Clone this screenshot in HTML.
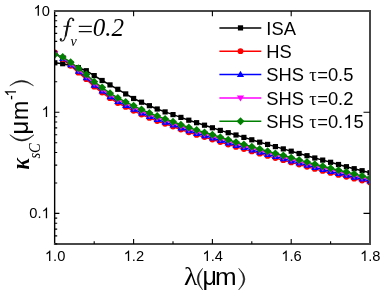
<!DOCTYPE html>
<html><head><meta charset="utf-8"><style>
html,body{margin:0;padding:0;background:#fff;}
svg{display:block;will-change:transform}
text{font-family:"Liberation Sans",sans-serif;fill:#000}
.se{font-family:"Liberation Serif",serif}
</style></head><body>
<svg width="382" height="292" viewBox="0 0 382 292">
<rect width="382" height="292" fill="#fff"/>
<defs><clipPath id="cp"><rect x="54.8" y="11.0" width="315.2" height="233.0"/></clipPath></defs>

<g clip-path="url(#cp)">
<polyline points="54.8,62.8 62.7,63.7 70.6,65.4 78.4,67.7 86.3,70.7 94.2,75.6 102.1,80.5 110.0,84.9 117.8,89.3 125.7,93.9 133.6,98.5 141.5,102.2 149.4,105.7 157.2,109.0 165.1,111.9 173.0,114.6 180.9,117.4 188.8,120.2 196.6,122.7 204.5,125.2 212.4,127.8 220.3,130.4 228.2,132.7 236.0,135.0 243.9,137.4 251.8,139.8 259.7,142.2 267.6,144.4 275.4,146.6 283.3,148.9 291.2,151.2 299.1,153.5 307.0,155.7 314.8,158.0 322.7,160.1 330.6,162.3 338.5,164.5 346.4,166.7 354.2,168.7 362.1,170.7 370.0,172.7" fill="none" stroke="#000" stroke-width="1.5"/>
<rect x="52.2" y="60.2" width="5.2" height="5.2" fill="#000"/>
<rect x="60.1" y="61.1" width="5.2" height="5.2" fill="#000"/>
<rect x="68.0" y="62.8" width="5.2" height="5.2" fill="#000"/>
<rect x="75.8" y="65.1" width="5.2" height="5.2" fill="#000"/>
<rect x="83.7" y="68.1" width="5.2" height="5.2" fill="#000"/>
<rect x="91.6" y="73.0" width="5.2" height="5.2" fill="#000"/>
<rect x="99.5" y="77.9" width="5.2" height="5.2" fill="#000"/>
<rect x="107.4" y="82.3" width="5.2" height="5.2" fill="#000"/>
<rect x="115.2" y="86.7" width="5.2" height="5.2" fill="#000"/>
<rect x="123.1" y="91.3" width="5.2" height="5.2" fill="#000"/>
<rect x="131.0" y="95.9" width="5.2" height="5.2" fill="#000"/>
<rect x="138.9" y="99.6" width="5.2" height="5.2" fill="#000"/>
<rect x="146.8" y="103.1" width="5.2" height="5.2" fill="#000"/>
<rect x="154.6" y="106.4" width="5.2" height="5.2" fill="#000"/>
<rect x="162.5" y="109.3" width="5.2" height="5.2" fill="#000"/>
<rect x="170.4" y="112.0" width="5.2" height="5.2" fill="#000"/>
<rect x="178.3" y="114.8" width="5.2" height="5.2" fill="#000"/>
<rect x="186.2" y="117.6" width="5.2" height="5.2" fill="#000"/>
<rect x="194.0" y="120.1" width="5.2" height="5.2" fill="#000"/>
<rect x="201.9" y="122.6" width="5.2" height="5.2" fill="#000"/>
<rect x="209.8" y="125.2" width="5.2" height="5.2" fill="#000"/>
<rect x="217.7" y="127.8" width="5.2" height="5.2" fill="#000"/>
<rect x="225.6" y="130.1" width="5.2" height="5.2" fill="#000"/>
<rect x="233.4" y="132.4" width="5.2" height="5.2" fill="#000"/>
<rect x="241.3" y="134.8" width="5.2" height="5.2" fill="#000"/>
<rect x="249.2" y="137.2" width="5.2" height="5.2" fill="#000"/>
<rect x="257.1" y="139.6" width="5.2" height="5.2" fill="#000"/>
<rect x="265.0" y="141.8" width="5.2" height="5.2" fill="#000"/>
<rect x="272.8" y="144.0" width="5.2" height="5.2" fill="#000"/>
<rect x="280.7" y="146.3" width="5.2" height="5.2" fill="#000"/>
<rect x="288.6" y="148.6" width="5.2" height="5.2" fill="#000"/>
<rect x="296.5" y="150.9" width="5.2" height="5.2" fill="#000"/>
<rect x="304.4" y="153.1" width="5.2" height="5.2" fill="#000"/>
<rect x="312.2" y="155.4" width="5.2" height="5.2" fill="#000"/>
<rect x="320.1" y="157.5" width="5.2" height="5.2" fill="#000"/>
<rect x="328.0" y="159.7" width="5.2" height="5.2" fill="#000"/>
<rect x="335.9" y="161.9" width="5.2" height="5.2" fill="#000"/>
<rect x="343.8" y="164.1" width="5.2" height="5.2" fill="#000"/>
<rect x="351.6" y="166.1" width="5.2" height="5.2" fill="#000"/>
<rect x="359.5" y="168.1" width="5.2" height="5.2" fill="#000"/>
<rect x="367.4" y="170.1" width="5.2" height="5.2" fill="#000"/>
<polyline points="54.8,52.5 62.7,59.1 70.6,65.8 78.4,72.7 86.3,79.2 94.2,86.7 102.1,92.6 110.0,98.2 117.8,103.0 125.7,106.9 133.6,110.8 141.5,114.6 149.4,117.9 157.2,121.0 165.1,123.8 173.0,126.5 180.9,129.5 188.8,132.3 196.6,134.9 204.5,137.1 212.4,139.5 220.3,142.0 228.2,144.5 236.0,146.9 243.9,149.1 251.8,151.4 259.7,153.7 267.6,155.9 275.4,158.1 283.3,160.2 291.2,162.4 299.1,164.6 307.0,166.8 314.8,168.9 322.7,170.9 330.6,172.9 338.5,174.9 346.4,176.8 354.2,178.7 362.1,180.6 370.0,182.6" fill="none" stroke="#f00" stroke-width="1.5"/>
<circle cx="54.8" cy="52.5" r="2.9" fill="#f00"/>
<circle cx="62.7" cy="59.1" r="2.9" fill="#f00"/>
<circle cx="70.6" cy="65.8" r="2.9" fill="#f00"/>
<circle cx="78.4" cy="72.7" r="2.9" fill="#f00"/>
<circle cx="86.3" cy="79.2" r="2.9" fill="#f00"/>
<circle cx="94.2" cy="86.7" r="2.9" fill="#f00"/>
<circle cx="102.1" cy="92.6" r="2.9" fill="#f00"/>
<circle cx="110.0" cy="98.2" r="2.9" fill="#f00"/>
<circle cx="117.8" cy="103.0" r="2.9" fill="#f00"/>
<circle cx="125.7" cy="106.9" r="2.9" fill="#f00"/>
<circle cx="133.6" cy="110.8" r="2.9" fill="#f00"/>
<circle cx="141.5" cy="114.6" r="2.9" fill="#f00"/>
<circle cx="149.4" cy="117.9" r="2.9" fill="#f00"/>
<circle cx="157.2" cy="121.0" r="2.9" fill="#f00"/>
<circle cx="165.1" cy="123.8" r="2.9" fill="#f00"/>
<circle cx="173.0" cy="126.5" r="2.9" fill="#f00"/>
<circle cx="180.9" cy="129.5" r="2.9" fill="#f00"/>
<circle cx="188.8" cy="132.3" r="2.9" fill="#f00"/>
<circle cx="196.6" cy="134.9" r="2.9" fill="#f00"/>
<circle cx="204.5" cy="137.1" r="2.9" fill="#f00"/>
<circle cx="212.4" cy="139.5" r="2.9" fill="#f00"/>
<circle cx="220.3" cy="142.0" r="2.9" fill="#f00"/>
<circle cx="228.2" cy="144.5" r="2.9" fill="#f00"/>
<circle cx="236.0" cy="146.9" r="2.9" fill="#f00"/>
<circle cx="243.9" cy="149.1" r="2.9" fill="#f00"/>
<circle cx="251.8" cy="151.4" r="2.9" fill="#f00"/>
<circle cx="259.7" cy="153.7" r="2.9" fill="#f00"/>
<circle cx="267.6" cy="155.9" r="2.9" fill="#f00"/>
<circle cx="275.4" cy="158.1" r="2.9" fill="#f00"/>
<circle cx="283.3" cy="160.2" r="2.9" fill="#f00"/>
<circle cx="291.2" cy="162.4" r="2.9" fill="#f00"/>
<circle cx="299.1" cy="164.6" r="2.9" fill="#f00"/>
<circle cx="307.0" cy="166.8" r="2.9" fill="#f00"/>
<circle cx="314.8" cy="168.9" r="2.9" fill="#f00"/>
<circle cx="322.7" cy="170.9" r="2.9" fill="#f00"/>
<circle cx="330.6" cy="172.9" r="2.9" fill="#f00"/>
<circle cx="338.5" cy="174.9" r="2.9" fill="#f00"/>
<circle cx="346.4" cy="176.8" r="2.9" fill="#f00"/>
<circle cx="354.2" cy="178.7" r="2.9" fill="#f00"/>
<circle cx="362.1" cy="180.6" r="2.9" fill="#f00"/>
<circle cx="370.0" cy="182.6" r="2.9" fill="#f00"/>
<polyline points="54.8,53.1 62.7,58.5 70.6,64.6 78.4,71.3 86.3,77.7 94.2,85.1 102.1,91.0 110.0,96.6 117.8,101.4 125.7,105.3 133.6,109.2 141.5,113.0 149.4,116.4 157.2,119.4 165.1,122.2 173.0,125.0 180.9,128.0 188.8,130.8 196.6,133.3 204.5,135.6 212.4,138.0 220.3,140.5 228.2,143.0 236.0,145.4 243.9,147.6 251.8,149.9 259.7,152.2 267.6,154.4 275.4,156.6 283.3,158.7 291.2,160.9 299.1,163.1 307.0,165.3 314.8,167.4 322.7,169.4 330.6,171.4 338.5,173.4 346.4,175.3 354.2,177.2 362.1,179.1 370.0,181.1" fill="none" stroke="#00f" stroke-width="1.5"/>
<polygon points="51.2,55.7 58.4,55.7 54.8,49.4" fill="#00f"/>
<polygon points="59.1,61.0 66.3,61.0 62.7,54.7" fill="#00f"/>
<polygon points="67.0,67.2 74.2,67.2 70.6,60.9" fill="#00f"/>
<polygon points="74.8,73.8 82.0,73.8 78.4,67.6" fill="#00f"/>
<polygon points="82.7,80.2 89.9,80.2 86.3,73.9" fill="#00f"/>
<polygon points="90.6,87.7 97.8,87.7 94.2,81.4" fill="#00f"/>
<polygon points="98.5,93.5 105.7,93.5 102.1,87.3" fill="#00f"/>
<polygon points="106.4,99.2 113.6,99.2 110.0,92.9" fill="#00f"/>
<polygon points="114.2,104.0 121.4,104.0 117.8,97.7" fill="#00f"/>
<polygon points="122.1,107.9 129.3,107.9 125.7,101.6" fill="#00f"/>
<polygon points="130.0,111.8 137.2,111.8 133.6,105.5" fill="#00f"/>
<polygon points="137.9,115.5 145.1,115.5 141.5,109.2" fill="#00f"/>
<polygon points="145.8,118.9 153.0,118.9 149.4,112.6" fill="#00f"/>
<polygon points="153.6,122.0 160.8,122.0 157.2,115.7" fill="#00f"/>
<polygon points="161.5,124.8 168.7,124.8 165.1,118.5" fill="#00f"/>
<polygon points="169.4,127.5 176.6,127.5 173.0,121.3" fill="#00f"/>
<polygon points="177.3,130.5 184.5,130.5 180.9,124.2" fill="#00f"/>
<polygon points="185.2,133.3 192.4,133.3 188.8,127.0" fill="#00f"/>
<polygon points="193.0,135.9 200.2,135.9 196.6,129.6" fill="#00f"/>
<polygon points="200.9,138.2 208.1,138.2 204.5,131.9" fill="#00f"/>
<polygon points="208.8,140.5 216.0,140.5 212.4,134.3" fill="#00f"/>
<polygon points="216.7,143.0 223.9,143.0 220.3,136.8" fill="#00f"/>
<polygon points="224.6,145.5 231.8,145.5 228.2,139.3" fill="#00f"/>
<polygon points="232.4,147.9 239.6,147.9 236.0,141.7" fill="#00f"/>
<polygon points="240.3,150.1 247.5,150.1 243.9,143.9" fill="#00f"/>
<polygon points="248.2,152.4 255.4,152.4 251.8,146.2" fill="#00f"/>
<polygon points="256.1,154.7 263.3,154.7 259.7,148.5" fill="#00f"/>
<polygon points="264.0,156.9 271.2,156.9 267.6,150.7" fill="#00f"/>
<polygon points="271.8,159.1 279.0,159.1 275.4,152.9" fill="#00f"/>
<polygon points="279.7,161.2 286.9,161.2 283.3,155.0" fill="#00f"/>
<polygon points="287.6,163.4 294.8,163.4 291.2,157.2" fill="#00f"/>
<polygon points="295.5,165.6 302.7,165.6 299.1,159.4" fill="#00f"/>
<polygon points="303.4,167.8 310.6,167.8 307.0,161.6" fill="#00f"/>
<polygon points="311.2,169.9 318.4,169.9 314.8,163.7" fill="#00f"/>
<polygon points="319.1,171.9 326.3,171.9 322.7,165.7" fill="#00f"/>
<polygon points="327.0,173.9 334.2,173.9 330.6,167.7" fill="#00f"/>
<polygon points="334.9,175.9 342.1,175.9 338.5,169.7" fill="#00f"/>
<polygon points="342.8,177.8 350.0,177.8 346.4,171.6" fill="#00f"/>
<polygon points="350.6,179.7 357.8,179.7 354.2,173.5" fill="#00f"/>
<polygon points="358.5,181.6 365.7,181.6 362.1,175.4" fill="#00f"/>
<polygon points="366.4,183.6 373.6,183.6 370.0,177.4" fill="#00f"/>
<polyline points="54.8,53.8 62.7,57.8 70.6,63.4 78.4,69.8 86.3,76.0 94.2,83.4 102.1,89.3 110.0,94.9 117.8,99.7 125.7,103.6 133.6,107.5 141.5,111.3 149.4,114.7 157.2,117.8 165.1,120.6 173.0,123.3 180.9,126.3 188.8,129.1 196.6,131.7 204.5,134.0 212.4,136.4 220.3,138.9 228.2,141.4 236.0,143.8 243.9,146.0 251.8,148.3 259.7,150.6 267.6,152.8 275.4,155.0 283.3,157.1 291.2,159.3 299.1,161.5 307.0,163.7 314.8,165.8 322.7,167.8 330.6,169.8 338.5,171.8 346.4,173.7 354.2,175.6 362.1,177.5 370.0,179.5" fill="none" stroke="#f0f" stroke-width="1.5"/>
<polygon points="51.2,51.3 58.4,51.3 54.8,57.6" fill="#f0f"/>
<polygon points="59.1,55.2 66.3,55.2 62.7,61.5" fill="#f0f"/>
<polygon points="67.0,60.9 74.2,60.9 70.6,67.2" fill="#f0f"/>
<polygon points="74.8,67.2 82.0,67.2 78.4,73.5" fill="#f0f"/>
<polygon points="82.7,73.5 89.9,73.5 86.3,79.8" fill="#f0f"/>
<polygon points="90.6,80.9 97.8,80.9 94.2,87.1" fill="#f0f"/>
<polygon points="98.5,86.8 105.7,86.8 102.1,93.0" fill="#f0f"/>
<polygon points="106.4,92.4 113.6,92.4 110.0,98.6" fill="#f0f"/>
<polygon points="114.2,97.2 121.4,97.2 117.8,103.4" fill="#f0f"/>
<polygon points="122.1,101.1 129.3,101.1 125.7,107.3" fill="#f0f"/>
<polygon points="130.0,105.0 137.2,105.0 133.6,111.2" fill="#f0f"/>
<polygon points="137.9,108.7 145.1,108.7 141.5,115.0" fill="#f0f"/>
<polygon points="145.8,112.1 153.0,112.1 149.4,118.4" fill="#f0f"/>
<polygon points="153.6,115.2 160.8,115.2 157.2,121.5" fill="#f0f"/>
<polygon points="161.5,118.0 168.7,118.0 165.1,124.3" fill="#f0f"/>
<polygon points="169.4,120.8 176.6,120.8 173.0,127.1" fill="#f0f"/>
<polygon points="177.3,123.8 184.5,123.8 180.9,130.1" fill="#f0f"/>
<polygon points="185.2,126.6 192.4,126.6 188.8,132.9" fill="#f0f"/>
<polygon points="193.0,129.2 200.2,129.2 196.6,135.5" fill="#f0f"/>
<polygon points="200.9,131.5 208.1,131.5 204.5,137.7" fill="#f0f"/>
<polygon points="208.8,133.8 216.0,133.8 212.4,140.1" fill="#f0f"/>
<polygon points="216.7,136.3 223.9,136.3 220.3,142.6" fill="#f0f"/>
<polygon points="224.6,138.8 231.8,138.8 228.2,145.1" fill="#f0f"/>
<polygon points="232.4,141.2 239.6,141.2 236.0,147.5" fill="#f0f"/>
<polygon points="240.3,143.4 247.5,143.4 243.9,149.7" fill="#f0f"/>
<polygon points="248.2,145.7 255.4,145.7 251.8,152.0" fill="#f0f"/>
<polygon points="256.1,148.0 263.3,148.0 259.7,154.3" fill="#f0f"/>
<polygon points="264.0,150.2 271.2,150.2 267.6,156.5" fill="#f0f"/>
<polygon points="271.8,152.4 279.0,152.4 275.4,158.7" fill="#f0f"/>
<polygon points="279.7,154.5 286.9,154.5 283.3,160.8" fill="#f0f"/>
<polygon points="287.6,156.7 294.8,156.7 291.2,163.0" fill="#f0f"/>
<polygon points="295.5,158.9 302.7,158.9 299.1,165.2" fill="#f0f"/>
<polygon points="303.4,161.1 310.6,161.1 307.0,167.4" fill="#f0f"/>
<polygon points="311.2,163.2 318.4,163.2 314.8,169.5" fill="#f0f"/>
<polygon points="319.1,165.2 326.3,165.2 322.7,171.5" fill="#f0f"/>
<polygon points="327.0,167.2 334.2,167.2 330.6,173.5" fill="#f0f"/>
<polygon points="334.9,169.2 342.1,169.2 338.5,175.5" fill="#f0f"/>
<polygon points="342.8,171.1 350.0,171.1 346.4,177.4" fill="#f0f"/>
<polygon points="350.6,173.0 357.8,173.0 354.2,179.3" fill="#f0f"/>
<polygon points="358.5,174.9 365.7,174.9 362.1,181.2" fill="#f0f"/>
<polygon points="366.4,176.9 373.6,176.9 370.0,183.2" fill="#f0f"/>
<polyline points="54.8,54.5 62.7,57.1 70.6,62.2 78.4,68.3 86.3,74.4 94.2,81.7 102.1,87.6 110.0,93.2 117.8,98.0 125.7,101.9 133.6,105.8 141.5,109.6 149.4,113.0 157.2,116.1 165.1,118.9 173.0,121.7 180.9,124.7 188.8,127.5 196.6,130.1 204.5,132.4 212.4,134.8 220.3,137.3 228.2,139.8 236.0,142.2 243.9,144.4 251.8,146.7 259.7,149.0 267.6,151.2 275.4,153.4 283.3,155.5 291.2,157.7 299.1,159.9 307.0,162.1 314.8,164.2 322.7,166.2 330.6,168.2 338.5,170.2 346.4,172.1 354.2,174.0 362.1,175.9 370.0,177.9" fill="none" stroke="#008000" stroke-width="1.5"/>
<polygon points="50.8,54.5 54.8,50.5 58.8,54.5 54.8,58.5" fill="#008000"/>
<polygon points="58.7,57.1 62.7,53.1 66.7,57.1 62.7,61.1" fill="#008000"/>
<polygon points="66.6,62.2 70.6,58.2 74.6,62.2 70.6,66.2" fill="#008000"/>
<polygon points="74.4,68.3 78.4,64.3 82.4,68.3 78.4,72.3" fill="#008000"/>
<polygon points="82.3,74.4 86.3,70.4 90.3,74.4 86.3,78.4" fill="#008000"/>
<polygon points="90.2,81.7 94.2,77.7 98.2,81.7 94.2,85.7" fill="#008000"/>
<polygon points="98.1,87.6 102.1,83.6 106.1,87.6 102.1,91.6" fill="#008000"/>
<polygon points="106.0,93.2 110.0,89.2 114.0,93.2 110.0,97.2" fill="#008000"/>
<polygon points="113.8,98.0 117.8,94.0 121.8,98.0 117.8,102.0" fill="#008000"/>
<polygon points="121.7,101.9 125.7,97.9 129.7,101.9 125.7,105.9" fill="#008000"/>
<polygon points="129.6,105.8 133.6,101.8 137.6,105.8 133.6,109.8" fill="#008000"/>
<polygon points="137.5,109.6 141.5,105.6 145.5,109.6 141.5,113.6" fill="#008000"/>
<polygon points="145.4,113.0 149.4,109.0 153.4,113.0 149.4,117.0" fill="#008000"/>
<polygon points="153.2,116.1 157.2,112.1 161.2,116.1 157.2,120.1" fill="#008000"/>
<polygon points="161.1,118.9 165.1,114.9 169.1,118.9 165.1,122.9" fill="#008000"/>
<polygon points="169.0,121.7 173.0,117.7 177.0,121.7 173.0,125.7" fill="#008000"/>
<polygon points="176.9,124.7 180.9,120.7 184.9,124.7 180.9,128.7" fill="#008000"/>
<polygon points="184.8,127.5 188.8,123.5 192.8,127.5 188.8,131.5" fill="#008000"/>
<polygon points="192.6,130.1 196.6,126.1 200.6,130.1 196.6,134.1" fill="#008000"/>
<polygon points="200.5,132.4 204.5,128.4 208.5,132.4 204.5,136.4" fill="#008000"/>
<polygon points="208.4,134.8 212.4,130.8 216.4,134.8 212.4,138.8" fill="#008000"/>
<polygon points="216.3,137.3 220.3,133.3 224.3,137.3 220.3,141.3" fill="#008000"/>
<polygon points="224.2,139.8 228.2,135.8 232.2,139.8 228.2,143.8" fill="#008000"/>
<polygon points="232.0,142.2 236.0,138.2 240.0,142.2 236.0,146.2" fill="#008000"/>
<polygon points="239.9,144.4 243.9,140.4 247.9,144.4 243.9,148.4" fill="#008000"/>
<polygon points="247.8,146.7 251.8,142.7 255.8,146.7 251.8,150.7" fill="#008000"/>
<polygon points="255.7,149.0 259.7,145.0 263.7,149.0 259.7,153.0" fill="#008000"/>
<polygon points="263.6,151.2 267.6,147.2 271.6,151.2 267.6,155.2" fill="#008000"/>
<polygon points="271.4,153.4 275.4,149.4 279.4,153.4 275.4,157.4" fill="#008000"/>
<polygon points="279.3,155.5 283.3,151.5 287.3,155.5 283.3,159.5" fill="#008000"/>
<polygon points="287.2,157.7 291.2,153.7 295.2,157.7 291.2,161.7" fill="#008000"/>
<polygon points="295.1,159.9 299.1,155.9 303.1,159.9 299.1,163.9" fill="#008000"/>
<polygon points="303.0,162.1 307.0,158.1 311.0,162.1 307.0,166.1" fill="#008000"/>
<polygon points="310.8,164.2 314.8,160.2 318.8,164.2 314.8,168.2" fill="#008000"/>
<polygon points="318.7,166.2 322.7,162.2 326.7,166.2 322.7,170.2" fill="#008000"/>
<polygon points="326.6,168.2 330.6,164.2 334.6,168.2 330.6,172.2" fill="#008000"/>
<polygon points="334.5,170.2 338.5,166.2 342.5,170.2 338.5,174.2" fill="#008000"/>
<polygon points="342.4,172.1 346.4,168.1 350.4,172.1 346.4,176.1" fill="#008000"/>
<polygon points="350.2,174.0 354.2,170.0 358.2,174.0 354.2,178.0" fill="#008000"/>
<polygon points="358.1,175.9 362.1,171.9 366.1,175.9 362.1,179.9" fill="#008000"/>
<polygon points="366.0,177.9 370.0,173.9 374.0,177.9 370.0,181.9" fill="#008000"/>
</g>
<path d="M54.65,10.0V245.0" stroke="#000" stroke-width="1.4" fill="none"/>
<path d="M53.95,11.0H371.0M370.0,10.0V245.0M53.95,244.0H371.0" stroke="#484848" stroke-width="2" fill="none"/>
<path d="M133.6,244.0v-5 M133.6,11.0v5.2 M212.4,244.0v-5 M212.4,11.0v5.2 M291.2,244.0v-5 M291.2,11.0v5.2 M94.2,244.0v-2.8 M173.0,244.0v-2.8 M251.8,244.0v-2.8 M330.6,244.0v-2.8 M54.8,112.2h4.6 M370.0,112.2h-6.5 M54.8,213.4h4.6 M370.0,213.4h-6.5 M54.8,243.9h2.4 M54.8,235.9h2.4 M54.8,229.1h2.4 M54.8,223.3h2.4 M54.8,218.1h2.4 M54.8,183.0h2.4 M54.8,165.1h2.4 M54.8,152.5h2.4 M54.8,142.7h2.4 M54.8,134.7h2.4 M54.8,127.9h2.4 M54.8,122.0h2.4 M54.8,116.8h2.4 M54.8,81.7h2.4 M54.8,63.9h2.4 M54.8,51.2h2.4 M54.8,41.4h2.4 M54.8,33.4h2.4 M54.8,26.6h2.4 M54.8,20.8h2.4 M54.8,15.6h2.4" stroke="#000" stroke-width="1.1" fill="none"/>
<path transform="translate(33.45,15.65) scale(0.00718,-0.00718)" d="M763,0L583,0L583,1147Q518,1085 412,1023T223,930L223,1104Q373,1174 485,1274T644,1468L763,1468Z" fill="#000"/><text x="41.63" y="15.65" font-size="14.7" fill="#000">0</text>
<path transform="translate(41.63,116.90) scale(0.00718,-0.00718)" d="M763,0L583,0L583,1147Q518,1085 412,1023T223,930L223,1104Q373,1174 485,1274T644,1468L763,1468Z" fill="#000"/>
<text x="29.37" y="218.15" font-size="14.7" fill="#000">0.</text><path transform="translate(41.63,218.15) scale(0.00718,-0.00718)" d="M763,0L583,0L583,1147Q518,1085 412,1023T223,930L223,1104Q373,1174 485,1274T644,1468L763,1468Z" fill="#000"/>
<path transform="translate(44.88,261.00) scale(0.00718,-0.00718)" d="M763,0L583,0L583,1147Q518,1085 412,1023T223,930L223,1104Q373,1174 485,1274T644,1468L763,1468Z" fill="#000"/><text x="53.06" y="261.00" font-size="14.7" fill="#000">.0</text>
<path transform="translate(123.68,261.00) scale(0.00718,-0.00718)" d="M763,0L583,0L583,1147Q518,1085 412,1023T223,930L223,1104Q373,1174 485,1274T644,1468L763,1468Z" fill="#000"/><text x="131.86" y="261.00" font-size="14.7" fill="#000">.2</text>
<path transform="translate(202.48,261.00) scale(0.00718,-0.00718)" d="M763,0L583,0L583,1147Q518,1085 412,1023T223,930L223,1104Q373,1174 485,1274T644,1468L763,1468Z" fill="#000"/><text x="210.66" y="261.00" font-size="14.7" fill="#000">.4</text>
<path transform="translate(281.28,261.00) scale(0.00718,-0.00718)" d="M763,0L583,0L583,1147Q518,1085 412,1023T223,930L223,1104Q373,1174 485,1274T644,1468L763,1468Z" fill="#000"/><text x="289.46" y="261.00" font-size="14.7" fill="#000">.6</text>
<path transform="translate(360.08,261.00) scale(0.00718,-0.00718)" d="M763,0L583,0L583,1147Q518,1085 412,1023T223,930L223,1104Q373,1174 485,1274T644,1468L763,1468Z" fill="#000"/><text x="368.26" y="261.00" font-size="14.7" fill="#000">.8</text>
<text transform="translate(184.0,284.6) scale(1.1,1)" font-size="25" class="se">λ</text>
<path d="M202.6,268.3 Q191.8,279.1 202.6,289.9 Q194.6,279.1 202.6,268.3Z" fill="#111" stroke="#111" stroke-width="0.5"/>
<text transform="translate(202.5,284.6) scale(1,1)" font-size="25" >μ</text>
<text transform="translate(215.0,284.6) scale(1.13,1)" font-size="23" >m</text>
<path d="M238.7,268.3 Q251.0,279.1 238.7,289.9 Q248.2,279.1 238.7,268.3Z" fill="#111" stroke="#111" stroke-width="0.5"/>
<g transform="translate(28.3,169) rotate(-90) scale(1,1.08)"><text transform="translate(-0.5,0.6) scale(1,1.1)" class="se" font-style="italic" font-weight="bold" font-size="21.5">κ</text><text transform="translate(10.4,10.4) scale(0.96,1.08)" class="se" font-style="italic" font-size="15.2">sC</text><text x="34.6" y="0" font-size="24">μ</text><text x="49.1" y="0" font-size="23">m</text><text x="68.9" y="-11.4" font-size="14.5">-</text><path transform="translate(72.4,-11.4) scale(0.00708,-0.00708)" d="M763,0L583,0L583,1147Q518,1085 412,1023T223,930L223,1104Q373,1174 485,1274T644,1468L763,1468Z"/></g>
<path d="M9.8,85.7 Q21.6,75.1 33.5,85.7 Q21.6,77.9 9.8,85.7Z" fill="#111" stroke="#111" stroke-width="0.5"/>
<path d="M9.8,134.8 Q21.9,147.4 34.0,134.8 Q21.9,144.6 9.8,134.8Z" fill="#111" stroke="#111" stroke-width="0.5"/>
<path d="M73.5,20.3 C73.9,18.0 71.0,17.5 69.7,19.0 C68.4,20.5 68.0,23 67.4,26.3 L65.3,36.5 C64.7,39.5 63.5,41.2 61.7,41.0 C60.5,40.8 60.1,39.8 60.6,39.1" fill="none" stroke="#111" stroke-width="1.2" stroke-linecap="round"/><path d="M68.5,21.5 L65.7,35.8" fill="none" stroke="#111" stroke-width="1.9" stroke-linecap="round"/><circle cx="73.2" cy="20.1" r="1.15" fill="#111"/><circle cx="60.9" cy="39.3" r="1.15" fill="#111"/><path d="M63.4,26.3H71.2" stroke="#111" stroke-width="1.0"/>
<text x="70.6" y="45.6" font-size="14" class="se" font-style="italic">v</text>
<path d="M78.8,26.4H91.8M78.8,31.7H91.8" stroke="#111" stroke-width="1.3"/>
<text x="92.7" y="35.9" font-size="25" class="se" font-style="italic">0.2</text>
<path d="M219.4,27.9H261.3" stroke="#000" stroke-width="1.5"/>
<rect x="237.9" y="25.3" width="5.2" height="5.2" fill="#000"/>
<text x="266.30" y="34.60" font-size="18.35" fill="#000">ISA</text>
<path d="M219.4,51.2H261.3" stroke="#f00" stroke-width="1.5"/>
<circle cx="240.5" cy="51.2" r="2.9" fill="#f00"/>
<text x="266.30" y="57.90" font-size="18.35" fill="#000">HS</text>
<path d="M219.4,74.5H261.3" stroke="#00f" stroke-width="1.5"/>
<polygon points="236.9,77.0 244.1,77.0 240.5,70.8" fill="#00f"/>
<text x="266.30" y="81.20" font-size="18.35" fill="#000">SHS </text>
<text x="309.13" y="81.2" font-size="18.35" class="se">τ</text>
<text x="317.18" y="81.20" font-size="18.35" fill="#000">=0.5</text>
<path d="M219.4,97.9H261.3" stroke="#f0f" stroke-width="1.5"/>
<polygon points="236.9,95.4 244.1,95.4 240.5,101.6" fill="#f0f"/>
<text x="266.30" y="104.60" font-size="18.35" fill="#000">SHS </text>
<text x="309.13" y="104.6" font-size="18.35" class="se">τ</text>
<text x="317.18" y="104.60" font-size="18.35" fill="#000">=0.2</text>
<path d="M219.4,121.2H261.3" stroke="#008000" stroke-width="1.5"/>
<polygon points="236.5,121.2 240.5,117.2 244.5,121.2 240.5,125.2" fill="#008000"/>
<text x="266.30" y="127.90" font-size="18.35" fill="#000">SHS </text>
<text x="309.13" y="127.9" font-size="18.35" class="se">τ</text>
<text x="317.18" y="127.90" font-size="18.35" fill="#000">=0.</text><path transform="translate(343.20,127.90) scale(0.00896,-0.00896)" d="M763,0L583,0L583,1147Q518,1085 412,1023T223,930L223,1104Q373,1174 485,1274T644,1468L763,1468Z" fill="#000"/><text x="353.41" y="127.90" font-size="18.35" fill="#000">5</text>
</svg></body></html>
